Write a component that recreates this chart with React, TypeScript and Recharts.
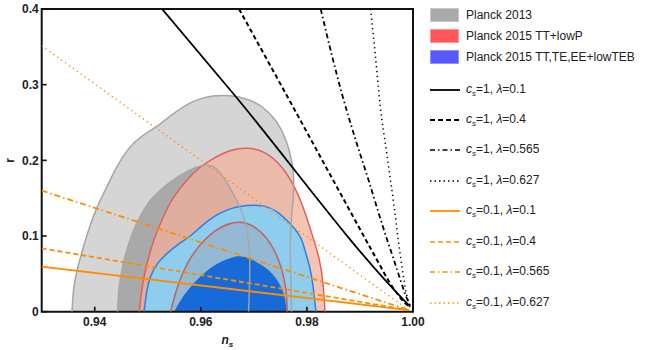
import React from 'react';
import {
  ComposedChart,
  Area,
  Line,
  XAxis,
  YAxis,
  ReferenceArea,
} from 'recharts';

type Pt = [number, number];

// ticks
const xTicks = [0.94, 0.96, 0.98, 1.0];
const yTicks = [0, 0.1, 0.2, 0.3, 0.4];

// Planck 2013 (outer / inner contour)
const planck13Outer: Pt[] = [
  [0.9357, 0], [0.9359, 0.024], [0.9363, 0.046], [0.9375, 0.077], [0.9388, 0.108],
  [0.9404, 0.139], [0.9423, 0.165], [0.9441, 0.192], [0.9463, 0.216], [0.9485, 0.231],
  [0.9517, 0.244], [0.9548, 0.262], [0.9586, 0.28], [0.9624, 0.286], [0.9655, 0.286],
  [0.9687, 0.282], [0.9718, 0.271], [0.9743, 0.253], [0.9762, 0.227], [0.9773, 0.196],
  [0.9776, 0.174], [0.9774, 0.148], [0.9771, 0.126], [0.9768, 0.095], [0.9769, 0.059],
  [0.9771, 0],
];
const planck13Inner: Pt[] = [
  [0.9443, 0], [0.9445, 0.033], [0.9454, 0.068], [0.947, 0.104], [0.9485, 0.126],
  [0.9504, 0.148], [0.9529, 0.165], [0.9561, 0.181], [0.9592, 0.192], [0.9611, 0.195],
  [0.9627, 0.192], [0.9643, 0.178], [0.9661, 0.156], [0.9674, 0.139], [0.9687, 0.112],
  [0.9693, 0.077], [0.9692, 0.037], [0.969, 0],
];

// Planck 2015 TT+lowP
const planck15TTOuter: Pt[] = [
  [0.9484, 0], [0.9489, 0.033], [0.9498, 0.064], [0.9511, 0.095], [0.9529, 0.126],
  [0.9548, 0.152], [0.9573, 0.174], [0.9599, 0.192], [0.9624, 0.203], [0.9655, 0.214],
  [0.9687, 0.217], [0.9718, 0.213], [0.9749, 0.196], [0.9774, 0.17], [0.9793, 0.139],
  [0.9809, 0.104], [0.9825, 0.068], [0.9831, 0.037], [0.9834, 0],
];
const planck15TTInner: Pt[] = [
  [0.9543, 0], [0.9555, 0.033], [0.9573, 0.064], [0.9599, 0.09], [0.963, 0.11],
  [0.9661, 0.119], [0.9687, 0.118], [0.9712, 0.108], [0.9737, 0.086], [0.9752, 0.059],
  [0.9761, 0.033], [0.9763, 0],
];

// Planck 2015 TT,TE,EE+lowTEB
const planck15AllOuter: Pt[] = [
  [0.9493, 0], [0.9498, 0.029], [0.9504, 0.046], [0.9517, 0.064], [0.9536, 0.077],
  [0.9558, 0.09], [0.958, 0.099], [0.9599, 0.112], [0.9624, 0.126], [0.9655, 0.137],
  [0.9687, 0.141], [0.9718, 0.141], [0.9743, 0.134], [0.9768, 0.117], [0.979, 0.099],
  [0.9796, 0.081], [0.9806, 0.059], [0.9812, 0.033], [0.9817, 0],
];
const planck15AllInner: Pt[] = [
  [0.955, 0], [0.9561, 0.015], [0.958, 0.033], [0.9605, 0.051], [0.963, 0.064],
  [0.9661, 0.073], [0.968, 0.074], [0.9705, 0.066], [0.9731, 0.055], [0.9749, 0.037],
  [0.9759, 0.02], [0.9762, 0],
];

// c_s = 1 predictions
const cs1Lam01: Pt[] = [[0.9527, 0.4], [0.9659, 0.29], [0.9986, 0.013], [0.9995, 0.0066]];
const cs1Lam04: Pt[] = [
  [0.9672, 0.4], [0.9772, 0.273], [0.9872, 0.145], [0.9923, 0.08], [0.9967, 0.027],
  [0.9989, 0.009], [0.9995, 0.0066],
];
const cs1Lam0565: Pt[] = [
  [0.9826, 0.4], [0.9847, 0.339], [0.9866, 0.288], [0.9891, 0.229], [0.9917, 0.172],
  [0.9942, 0.115], [0.9967, 0.062], [0.9986, 0.022], [0.9995, 0.0066],
];
const cs1Lam0627: Pt[] = [
  [0.992, 0.4], [0.9929, 0.339], [0.9938, 0.273], [0.9951, 0.207], [0.9964, 0.141],
  [0.9976, 0.075], [0.9987, 0.026], [0.9995, 0.0066],
];

// c_s = 0.1 predictions
const cs01Lam01: Pt[] = [[0.93, 0.0595], [0.9992, 0.0022]];
const cs01Lam04: Pt[] = [[0.93, 0.0837], [0.9992, 0.0022]];
const cs01Lam0565: Pt[] = [[0.93, 0.16], [0.9992, 0.0022]];
const cs01Lam0627: Pt[] = [[0.93, 0.3515], [0.9992, 0.0022]];

const toRows = (pts: Pt[]) => pts.map(([ns, r]) => ({ ns, r }));

const FONT = '"Liberation Sans", Arial, sans-serif';
const ORANGE = '#ff8c00';

const regionLegend = [
  { label: 'Planck 2013', color: '#aaaaaa' },
  { label: 'Planck 2015 TT+lowP', color: '#ff5858' },
  { label: 'Planck 2015 TT,TE,EE+lowTEB', color: '#5858ff' },
];

const lineLegend = [
  { cs: '1', lam: '0.1', color: '#000', dash: undefined, w: 1.8 },
  { cs: '1', lam: '0.4', color: '#000', dash: '5 3', w: 1.8 },
  { cs: '1', lam: '0.565', color: '#000', dash: '5 3 1.5 3', w: 1.6 },
  { cs: '1', lam: '0.627', color: '#000', dash: '1.5 3', w: 1.4 },
  { cs: '0.1', lam: '0.1', color: ORANGE, dash: undefined, w: 1.8 },
  { cs: '0.1', lam: '0.4', color: ORANGE, dash: '5 3', w: 1.6 },
  { cs: '0.1', lam: '0.565', color: ORANGE, dash: '5 3 1.5 3', w: 1.6 },
  { cs: '0.1', lam: '0.627', color: ORANGE, dash: '1.5 3', w: 1.4 },
];

const theoryLines: { data: Pt[]; color: string; dash?: string; w: number }[] = [
  { data: cs01Lam01, color: ORANGE, w: 1.8 },
  { data: cs01Lam04, color: ORANGE, dash: '5 3', w: 1.8 },
  { data: cs01Lam0565, color: ORANGE, dash: '6 3 1.5 3', w: 1.8 },
  { data: cs01Lam0627, color: ORANGE, dash: '1.3 3.5', w: 1.4 },
  { data: cs1Lam01, color: '#000', w: 1.8 },
  { data: cs1Lam04, color: '#000', dash: '4.5 3', w: 2 },
  { data: cs1Lam0565, color: '#000', dash: '5 3 1.5 3', w: 1.8 },
  { data: cs1Lam0627, color: '#000', dash: '1.3 3.5', w: 1.5 },
];

function CsLabel({ cs, lam }: { cs: string; lam: string }) {
  return (
    <span>
      <i>c</i>
      <sub style={{ fontSize: 8, fontStyle: 'italic', verticalAlign: -3 }}>s</sub>={cs},{' '}
      <i>λ</i>={lam}
    </span>
  );
}

function ChartLegend() {
  return (
    <div style={{ position: 'absolute', left: 0, top: 0, fontFamily: FONT, fontSize: 12, color: '#222' }}>
      {regionLegend.map((item, i) => (
        <div
          key={item.label}
          style={{ position: 'absolute', left: 430, top: 8 + i * 21.2, display: 'flex', alignItems: 'center', whiteSpace: 'nowrap' }}
        >
          <div style={{ width: 29, height: 14, background: item.color, boxSizing: 'border-box', border: '1px solid rgba(255,255,255,0.35)' }} />
          <span style={{ marginLeft: 7 }}>{item.label}</span>
        </div>
      ))}
      {lineLegend.map((item, i) => (
        <div
          key={i}
          style={{ position: 'absolute', left: 430, top: 81.5 + i * 30.43, height: 16, display: 'flex', alignItems: 'center', whiteSpace: 'nowrap' }}
        >
          <svg width={30} height={6}>
            <line x1={0} y1={3} x2={30} y2={3} stroke={item.color} strokeWidth={item.w} strokeDasharray={item.dash} />
          </svg>
          <span style={{ marginLeft: 6 }}>
            <CsLabel cs={item.cs} lam={item.lam} />
          </span>
        </div>
      ))}
    </div>
  );
}

export default function App() {
  const tickStyle = { fontSize: 12, fontWeight: 700, fill: '#222', fontFamily: FONT };
  return (
    <div style={{ position: 'absolute', left: 0, top: 0, width: 650, height: 350, background: '#fff' }}>
      <ComposedChart width={650} height={350} margin={{ top: 9, right: 237, bottom: 0, left: 0 }}>
        <XAxis
          dataKey="ns"
          type="number"
          domain={[0.93, 1.0]}
          ticks={xTicks}
          allowDataOverflow
          tickFormatter={(v: number) => v.toFixed(2)}
          tick={tickStyle}
          axisLine={false}
          tickLine={{ stroke: '#111', strokeWidth: 1.6 }}
          tickSize={-5}
          tickMargin={10.5}
          height={38.3}
          label={({ viewBox }: any) => (
            <text
              x={viewBox.x + viewBox.width / 2}
              y={344}
              textAnchor="middle"
              fontFamily={FONT}
              fontSize={12}
              fontWeight={700}
              fill="#222"
            >
              <tspan fontStyle="italic">n</tspan>
              <tspan fontStyle="italic" fontSize={8} dy={2.5}>s</tspan>
            </text>
          )}
        />
        <YAxis
          dataKey="r"
          type="number"
          domain={[0, 0.4]}
          ticks={yTicks}
          allowDataOverflow
          tickFormatter={(v: number) => (v === 0 ? '0' : v.toFixed(1))}
          tick={tickStyle}
          axisLine={false}
          tickLine={{ stroke: '#111', strokeWidth: 1.6 }}
          tickSize={-5}
          tickMargin={8}
          width={41.7}
          label={({ viewBox }: any) => (
            <text
              x={10}
              y={viewBox.y + viewBox.height / 2}
              textAnchor="middle"
              dominantBaseline="central"
              transform={`rotate(-90 10 ${viewBox.y + viewBox.height / 2})`}
              fontFamily={FONT}
              fontSize={12}
              fontWeight={700}
              fill="#222"
            >
              r
            </text>
          )}
        />

        {/* filled confidence regions */}
        <Area data={toRows(planck13Outer)} dataKey="r" type="basis" fill="#d5d5d5" fillOpacity={1} stroke="none" isAnimationActive={false} />
        <Area data={toRows(planck13Inner)} dataKey="r" type="basis" fill="#a9a9a9" fillOpacity={1} stroke="none" isAnimationActive={false} />
        <Area data={toRows(planck15TTOuter)} dataKey="r" type="basis" fill="#f1b09b" fillOpacity={0.75} stroke="none" isAnimationActive={false} />
        <Area data={toRows(planck15AllOuter)} dataKey="r" type="basis" fill="#8fcdee" fillOpacity={1} stroke="none" isAnimationActive={false} />
        <Area data={toRows(planck15TTInner)} dataKey="r" type="basis" fill="#b05a50" fillOpacity={0.17} stroke="none" isAnimationActive={false} />
        <Area data={toRows(planck15AllInner)} dataKey="r" type="basis" fill="#166bd9" fillOpacity={1} stroke="none" isAnimationActive={false} />

        {/* contour outlines */}
        <Line data={toRows(planck15TTOuter)} dataKey="r" type="basis" stroke="#e0605a" strokeWidth={1.5} dot={false} isAnimationActive={false} />
        <Line data={toRows(planck15TTInner)} dataKey="r" type="basis" stroke="#c8605a" strokeWidth={1.5} dot={false} isAnimationActive={false} />
        <Line data={toRows(planck15AllOuter)} dataKey="r" type="basis" stroke="#2a80e6" strokeWidth={1.5} dot={false} isAnimationActive={false} />
        <Line data={toRows(planck13Outer)} dataKey="r" type="basis" stroke="#a6a6a6" strokeWidth={1.5} dot={false} isAnimationActive={false} />
        <Line data={toRows(planck13Inner)} dataKey="r" type="basis" stroke="#a6a6a6" strokeWidth={1.5} strokeOpacity={0.9} dot={false} isAnimationActive={false} />

        {/* model predictions */}
        {theoryLines.map((l, i) => (
          <Line
            key={i}
            data={toRows(l.data)}
            dataKey="r"
            type="monotone"
            stroke={l.color}
            strokeWidth={l.w}
            strokeDasharray={l.dash}
            dot={false}
            isAnimationActive={false}
          />
        ))}

        <ReferenceArea x1={0.93} x2={1.0} y1={0} y2={0.4} fill="none" fillOpacity={0} stroke="#111" strokeWidth={2} ifOverflow="visible" />
      </ComposedChart>
      <ChartLegend />
    </div>
  );
}
